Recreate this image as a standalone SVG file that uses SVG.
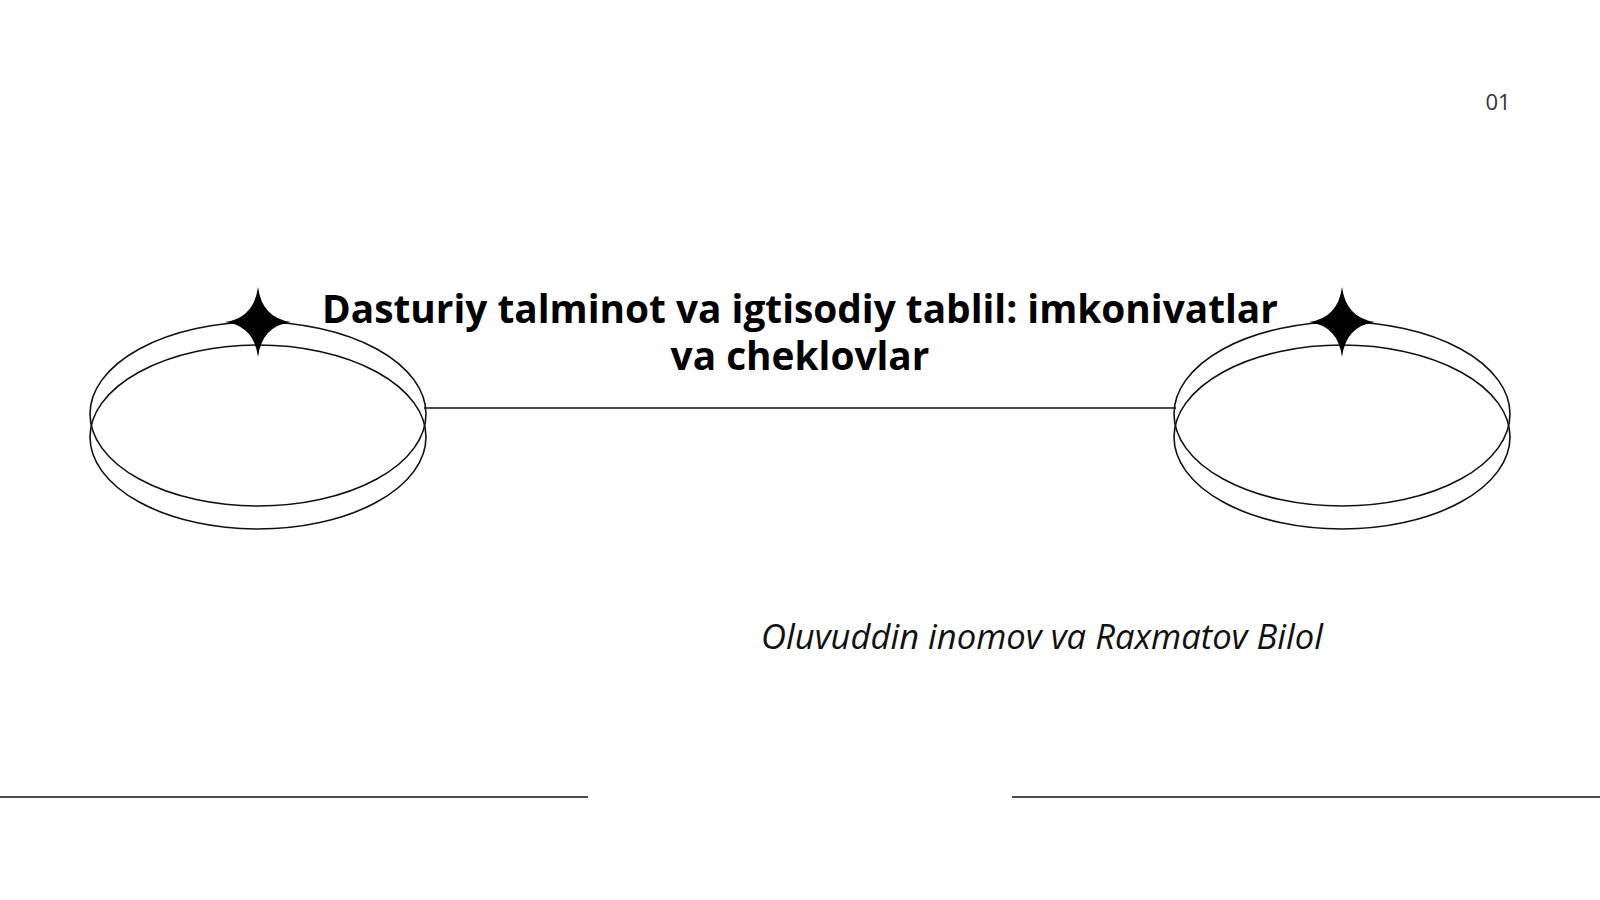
<svg xmlns="http://www.w3.org/2000/svg" width="1600" height="900" viewBox="0 0 1600 900">
<style>
.o{fill:none;stroke:#111;stroke-width:1.6}
.t{font-family:"Open Sans",sans-serif;font-weight:700;font-size:38.8px;fill:#000;text-anchor:middle}
</style>
<defs>
<path id="star" d="M0,-35 Q4,-4 33,0 Q4,4 0,35 Q-4,4 -33,0 Q-4,-4 0,-35Z" fill="#000"/>
</defs>
<rect width="1600" height="900" fill="#fff"/>
<g id="connectors">
<line class="o" x1="424" y1="408" x2="1176" y2="408"/>
<line class="o" x1="0" y1="797" x2="588" y2="797"/>
<line class="o" x1="1012" y1="797" x2="1600" y2="797"/>
</g>
<g id="left-node">
<ellipse class="o" cx="258" cy="414" rx="168" ry="92"/>
<ellipse class="o" cx="258" cy="437" rx="168" ry="92"/>
<use href="#star" x="258" y="322"/>
</g>
<g id="right-node">
<ellipse class="o" cx="1342" cy="414" rx="168" ry="92"/>
<ellipse class="o" cx="1342" cy="437" rx="168" ry="92"/>
<use href="#star" x="1342" y="322"/>
</g>
<g id="title">
<text class="t" x="800" y="323">Dasturiy talminot va igtisodiy tablil: imkonivatlar</text>
<text class="t" x="800" y="370">va cheklovlar</text>
</g>
<text x="1042" y="649" font-family="'Open Sans',sans-serif" font-style="italic" font-size="34.6" fill="#111" text-anchor="middle">Oluvuddin inomov va Raxmatov Bilol</text>
<text x="1498" y="110" font-family="'Open Sans',sans-serif" font-size="22" fill="#333" text-anchor="middle">01</text>
</svg>
